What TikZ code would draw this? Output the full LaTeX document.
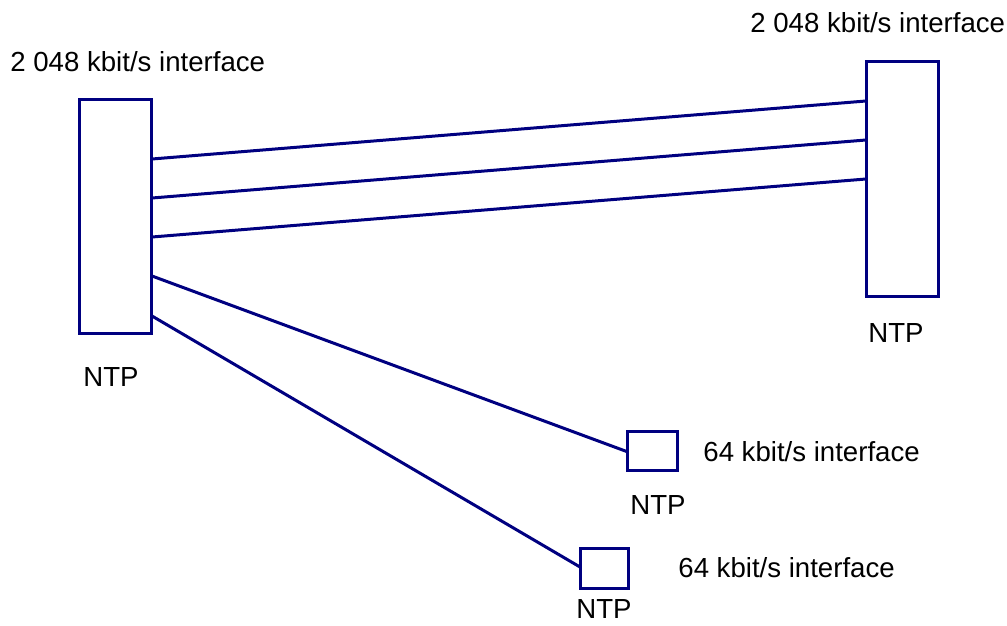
\documentclass[tikz,border=0pt]{standalone}
\usepackage{fontspec}
\setmainfont{Liberation Sans}
\definecolor{ntpblue}{RGB}{0,0,128}
\tikzset{
  ntpbox/.style={draw=ntpblue, line width=1.5pt, rectangle, inner sep=0pt},
  link/.style={draw=ntpblue, line width=1.5pt},
  lbl/.style={anchor=base west, inner sep=0pt, font=\fontsize{13.8}{16}\selectfont}
}

\begin{document}
\begin{tikzpicture}[x=0.5pt,y=-0.5pt]
                \useasboundingbox (0,0) rectangle (1007,626);
                % boxes
                \node [ntpbox, minimum width=36pt, minimum height=116.5pt] (ntpA) at (115.5,216.5) {};
                \node [ntpbox, minimum width=36pt, minimum height=117pt] (ntpB) at (902,179) {};
                \node [ntpbox, minimum width=25pt, minimum height=19.5pt] (ntpC) at (652.5,451) {};
                \node [ntpbox, minimum width=24pt, minimum height=20pt] (ntpD) at (604,568) {};
                % line ends
                \coordinate (a1) at (152,159);
                \coordinate (a2) at (152,198);
                \coordinate (a3) at (152,237);
                \coordinate (a4) at (152,276);
                \coordinate (a5) at (152,316);
                \coordinate (b1) at (866,101);
                \coordinate (b2) at (866,140);
                \coordinate (b3) at (866,179);
                \coordinate (c1) at (628,452);
                \coordinate (d1) at (580,567);
                \draw [link] (a1) -- (b1);
                \draw [link] (a2) -- (b2);
                \draw [link] (a3) -- (b3);
                \draw [link] (a4) -- (c1);
                \draw [link] (a5) -- (d1);
                % labels
                \node [lbl] (txtA) at (10,72) {2 048 kbit/s interface};
                \node [lbl] (txtB) at (750,33) {2 048 kbit/s interface};
                \node [lbl] (txtC) at (703,461) {64 kbit/s interface};
                \node [lbl] (txtD) at (678,577) {64 kbit/s interface};
                \node [lbl] (nameA) at (83,386) {NTP};
                \node [lbl] (nameB) at (868,342) {NTP};
                \node [lbl] (nameC) at (630,514) {NTP};
                \node [lbl] (nameD) at (576,618) {NTP};
            \end{tikzpicture}
\end{document}
